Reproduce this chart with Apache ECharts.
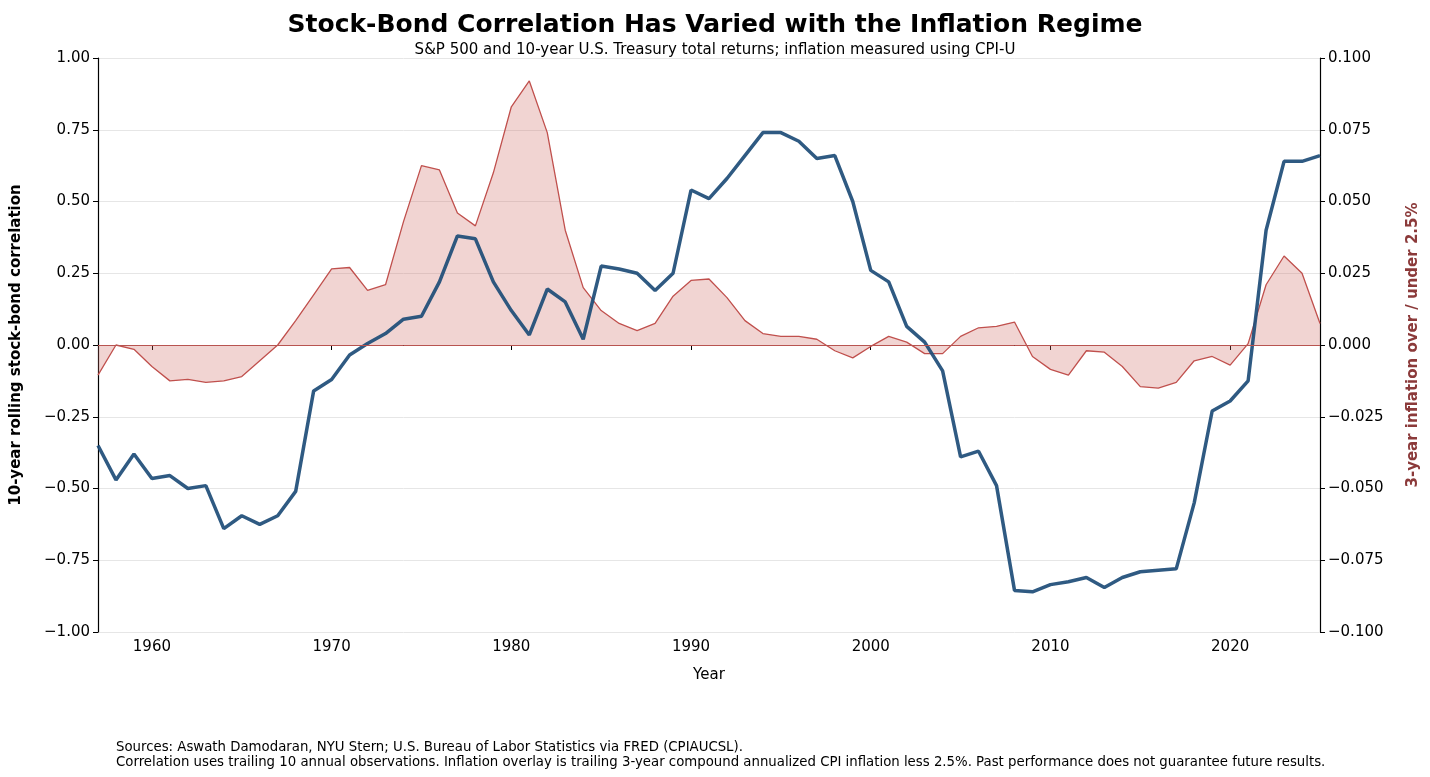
<!DOCTYPE html>
<html><head><meta charset="utf-8">
<script src="https://cdn.jsdelivr.net/npm/echarts@6/dist/echarts.min.js"></script>
<style>html,body{margin:0;padding:0;background:#fff}#c{width:1430px;height:777px}</style>
</head><body><div id="c"></div>
<script>
const years = [];
for (let y = 1957; y <= 2025; y++) years.push(String(y));
const correlation = [-0.35,-0.47,-0.38,-0.465,-0.455,-0.50,-0.49,-0.64,-0.595,-0.625,-0.595,-0.51,-0.16,-0.12,-0.035,0.005,0.04,0.09,0.10,0.22,0.38,0.37,0.22,0.12,0.035,0.195,0.15,0.02,0.275,0.265,0.25,0.19,0.25,0.54,0.51,0.58,0.66,0.74,0.74,0.71,0.65,0.66,0.50,0.26,0.22,0.065,0.01,-0.09,-0.39,-0.37,-0.49,-0.855,-0.86,-0.835,-0.825,-0.81,-0.845,-0.81,-0.79,-0.785,-0.78,-0.55,-0.23,-0.195,-0.125,0.40,0.64,0.64,0.66];
const inflationGap = [-0.0105,0.0,-0.0015,-0.0075,-0.0125,-0.012,-0.013,-0.0125,-0.011,-0.0055,0.0,0.0085,0.0175,0.0265,0.027,0.019,0.021,0.043,0.0625,0.061,0.046,0.0415,0.060,0.083,0.092,0.074,0.040,0.020,0.012,0.0075,0.005,0.0075,0.017,0.0225,0.023,0.0165,0.0085,0.004,0.003,0.003,0.002,-0.002,-0.0045,-0.0005,0.003,0.001,-0.003,-0.003,0.003,0.006,0.0065,0.008,-0.004,-0.0085,-0.0105,-0.002,-0.0025,-0.0075,-0.0145,-0.015,-0.013,-0.0055,-0.004,-0.007,0.0005,0.021,0.031,0.025,0.0075];
const leftTicks = [-1,-0.75,-0.5,-0.25,0,0.25,0.5,0.75,1];

const F = 'DejaVu Sans';
const chart = echarts.init(document.getElementById('c'));
const decade = (i) => Number(years[i]) % 10 === 0;
chart.setOption({
  animation: false,
  textStyle: {fontFamily: F},
  title: [
    {text: 'Stock-Bond Correlation Has Varied with the Inflation Regime', left: 'center', top: 8,
     textStyle: {fontSize: 25, fontWeight: 'bold', color: '#000', fontFamily: F}},
    {text: 'S&P 500 and 10-year U.S. Treasury total returns; inflation measured using CPI-U', left: 'center', top: 38,
     textStyle: {fontSize: 15, fontWeight: 'normal', color: '#000', fontFamily: F}},
    {text: 'Sources: Aswath Damodaran, NYU Stern; U.S. Bureau of Labor Statistics via FRED (CPIAUCSL).\nCorrelation uses trailing 10 annual observations. Inflation overlay is trailing 3-year compound annualized CPI inflation less 2.5%. Past performance does not guarantee future results.',
     left: 111, top: 735, textStyle: {fontSize: 13.3, fontWeight: 'normal', color: '#000', lineHeight: 15, fontFamily: F}}
  ],
  grid: {left: 98, right: 110, top: 58, bottom: 145},
  xAxis: {
    type: 'category', data: years, boundaryGap: false,
    name: 'Year', nameLocation: 'middle', nameGap: 36, nameTextStyle: {fontSize: 15, color: '#000'},
    axisLine: {lineStyle: {color: '#000', width: 1.2}},
    axisTick: {interval: (i) => decade(i), length: 5, lineStyle: {color: '#000'}},
    axisLabel: {interval: (i) => decade(i), fontSize: 15, color: '#000', margin: 8},
    splitLine: {show: false}
  },
  yAxis: [
    {type: 'value', min: -1, max: 1, interval: 0.25, position: 'left',
     name: '10-year rolling stock-bond correlation', nameLocation: 'middle', nameGap: 74,
     nameTextStyle: {fontSize: 15, fontWeight: 'bold', color: '#000'},
     axisLine: {show: true, lineStyle: {color: '#000', width: 1.2}},
     axisTick: {show: true, length: 5, lineStyle: {color: '#000'}},
     axisLabel: {fontSize: 15, color: '#000', formatter: (v) => v.toFixed(2).replace('-', '\u2212')},
     splitLine: {show: true, lineStyle: {color: '#e6e6e6', width: 1}}},
    {type: 'value', min: -0.1, max: 0.1, interval: 0.025, position: 'right',
     name: '3-year inflation over / under 2.5%', nameLocation: 'middle', nameGap: 86, nameRotate: 90,
     nameTextStyle: {fontSize: 15, fontWeight: 'bold', color: '#8b3a3a'},
     axisLine: {show: true, lineStyle: {color: '#000', width: 1.2}},
     axisTick: {show: true, length: 5, lineStyle: {color: '#000'}},
     axisLabel: {fontSize: 15, color: '#000', formatter: (v) => v.toFixed(3).replace('-', '\u2212')},
     splitLine: {show: false}}
  ],
  series: [
    {type: 'line', yAxisIndex: 1, data: inflationGap, symbol: 'none', z: 1,
     lineStyle: {color: '#c0504d', width: 1.3},
     areaStyle: {color: 'rgba(205,100,95,0.4)', origin: 0},
     markLine: {silent: true, symbol: 'none', label: {show: false},
       lineStyle: {color: '#b85450', width: 1, type: 'solid'}, data: [{yAxis: 0}]}},
    {type: 'line', yAxisIndex: 0, data: correlation, symbol: 'none', z: 3,
     lineStyle: {color: '#1f4e79', width: 3.5, opacity: 0.93}}
  ]
});
</script></body></html>
